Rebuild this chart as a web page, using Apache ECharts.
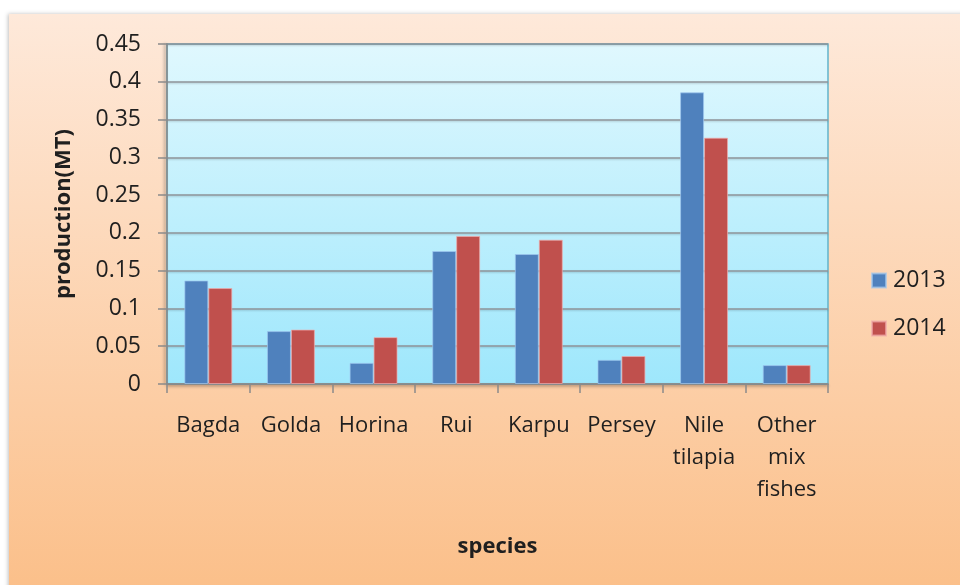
<!DOCTYPE html>
<html>
<head>
<meta charset="utf-8">
<script src="https://cdn.jsdelivr.net/npm/echarts@6/dist/echarts.min.js"></script>
<style>
  html, body { margin: 0; padding: 0; background: #ffffff; }
  #chart { width: 960px; height: 585px; }
</style>
</head>
<body>
<div id="chart"></div>
<script>
// Fish production by species, two seasons
const species = ['Bagda', 'Golda', 'Horina', 'Rui', 'Karpu', 'Persey', 'Nile\ntilapia', 'Other\nmix\nfishes'];
const prod2013 = [0.137, 0.070, 0.028, 0.176, 0.172, 0.032, 0.386, 0.025];
const prod2014 = [0.127, 0.072, 0.062, 0.196, 0.191, 0.037, 0.326, 0.025];
const yTicks = [0, 0.05, 0.1, 0.15, 0.2, 0.25, 0.3, 0.35, 0.4, 0.45];

const FONT = '"Open Sans", "Noto Sans", sans-serif';
const TEXT = '#1f1f1f';

const chart = echarts.init(document.getElementById('chart'), null, { renderer: 'canvas' });

chart.setOption({
  backgroundColor: '#ffffff',
  animation: false,
  graphic: [{
    type: 'rect',
    z: -100,
    shape: { x: 9, y: 14, width: 960, height: 580 },
    style: {
      fill: new echarts.graphic.LinearGradient(0, 0, 0, 1, [
        { offset: 0, color: '#fee9da' },
        { offset: 1, color: '#fbbf89' }
      ]),
      shadowColor: 'rgba(0,0,0,0.25)',
      shadowBlur: 4,
      shadowOffsetX: -1
    }
  }],
  grid: {
    left: 167, top: 44, width: 661, height: 340,
    show: true,
    backgroundColor: new echarts.graphic.LinearGradient(0, 0, 0, 1, [
      { offset: 0, color: '#e0f8fe' },
      { offset: 1, color: '#9ee7fc' }
    ]),
    borderColor: '#62b4cc',
    borderWidth: 1.5
  },
  legend: {
    orient: 'vertical',
    left: 866, top: 264,
    itemWidth: 14, itemHeight: 14,
    itemGap: 25,
    icon: 'rect',
    textStyle: { fontFamily: FONT, fontSize: 23, color: TEXT, padding: [0, 0, 0, 2] },
    data: ['2013', '2014']
  },
  xAxis: {
    type: 'category',
    data: species,
    name: 'species',
    nameLocation: 'middle',
    nameGap: 152,
    nameTextStyle: { fontFamily: FONT, fontSize: 22, fontWeight: 'bold', color: TEXT },
    axisLine: { lineStyle: { color: '#8a8a8a', width: 1.5, shadowColor: 'rgba(0,0,0,0.3)', shadowBlur: 3, shadowOffsetY: 2 } },
    axisTick: { show: true, alignWithLabel: false, length: 9, lineStyle: { color: '#8a8a8a', width: 1.5 } },
    axisLabel: {
      fontFamily: FONT, fontSize: 22, color: TEXT,
      margin: 26, lineHeight: 32, interval: 0
    }
  },
  yAxis: {
    type: 'value',
    min: 0, max: 0.45, interval: 0.05,
    name: 'production(MT)',
    nameLocation: 'middle',
    nameGap: 92,
    nameRotate: 90,
    nameTextStyle: { fontFamily: FONT, fontSize: 22, fontWeight: 'bold', color: TEXT },
    axisLine: { show: true, lineStyle: { color: '#8a8a8a', width: 1.5, shadowColor: 'rgba(0,0,0,0.35)', shadowBlur: 3, shadowOffsetX: -2 } },
    axisTick: { show: true, length: 9, lineStyle: { color: '#8a8a8a', width: 1.5 } },
    axisLabel: {
      fontFamily: FONT, fontSize: 23, color: TEXT, margin: 26,
      formatter: function (v) {
        const t = yTicks.find(function (k) { return Math.abs(k - v) < 1e-9; });
        return String(t !== undefined ? t : v);
      }
    },
    splitLine: {
      show: true,
      lineStyle: { color: '#8f959a', width: 1.5, shadowColor: 'rgba(0,0,0,0.18)', shadowBlur: 2, shadowOffsetY: 1 }
    }
  },
  series: [
    {
      name: '2013', type: 'bar', data: prod2013,
      barGap: '0%', barCategoryGap: '42%',
      itemStyle: { color: '#4f81bd', borderColor: 'rgba(160,200,240,0.7)', borderWidth: 1 }
    },
    {
      name: '2014', type: 'bar', data: prod2014,
      barGap: '0%', barCategoryGap: '42%',
      itemStyle: { color: '#c0504d', borderColor: 'rgba(240,170,170,0.7)', borderWidth: 1 }
    }
  ]
});
</script>
</body>
</html>
